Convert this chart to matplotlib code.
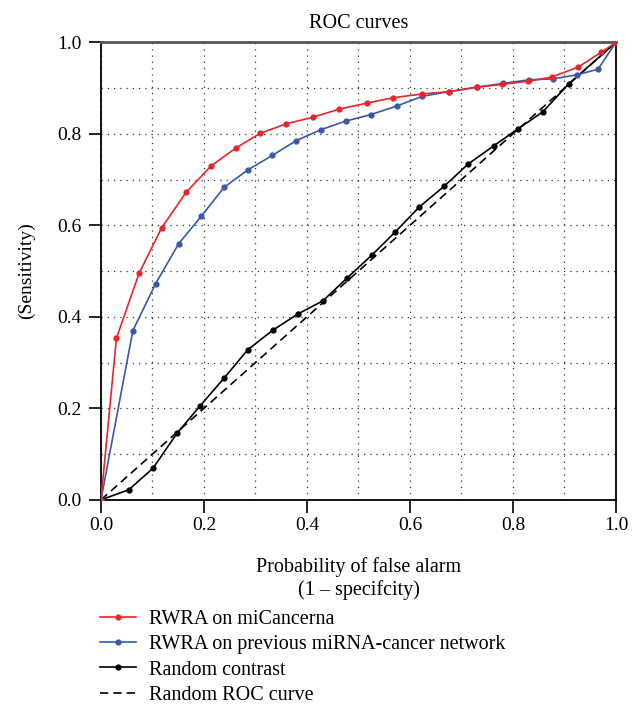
import numpy as np
import matplotlib
matplotlib.use("Agg")
import matplotlib.pyplot as plt

# Werte
red_x = [0.0, 0.030, 0.074, 0.118, 0.166, 0.214, 0.262, 0.309, 0.360, 0.411, 0.463,
         0.516, 0.568, 0.623, 0.675, 0.730, 0.779, 0.830, 0.875, 0.927, 0.971, 1.0]
red_y = [0.0, 0.353, 0.495, 0.595, 0.673, 0.730, 0.769, 0.801, 0.822, 0.836, 0.854,
         0.867, 0.879, 0.887, 0.892, 0.902, 0.908, 0.915, 0.924, 0.946, 0.978, 1.0]

blue_x = [0.0, 0.062, 0.106, 0.151, 0.195, 0.239, 0.285, 0.333, 0.379, 0.427, 0.476,
          0.524, 0.575, 0.624, 0.675, 0.730, 0.780, 0.831, 0.878, 0.924, 0.965, 1.0]
blue_y = [0.0, 0.370, 0.472, 0.560, 0.620, 0.683, 0.721, 0.753, 0.785, 0.809, 0.828,
          0.842, 0.861, 0.882, 0.892, 0.902, 0.910, 0.918, 0.920, 0.929, 0.941, 1.0]

black_x = [0.0, 0.054, 0.101, 0.148, 0.193, 0.239, 0.285, 0.334, 0.382, 0.431, 0.478,
           0.526, 0.571, 0.618, 0.667, 0.713, 0.763, 0.810, 0.858, 0.908, 1.0]
black_y = [0.0, 0.022, 0.069, 0.146, 0.206, 0.266, 0.328, 0.371, 0.406, 0.435, 0.485,
           0.535, 0.585, 0.640, 0.686, 0.734, 0.774, 0.811, 0.848, 0.909, 1.0]

diag = [0.0, 1.0]

labels = ["RWRA on miCancerna",
          "RWRA on previous miRNA-cancer network",
          "Random contrast",
          "Random ROC curve"]
ticks = [0.0, 0.2, 0.4, 0.6, 0.8, 1.0]
tick_labels = ["0.0", "0.2", "0.4", "0.6", "0.8", "1.0"]

plt.rcParams['font.family'] = ['Liberation Serif', 'DejaVu Serif']

fig = plt.figure(figsize=(6.43, 7.05), dpi=100)
ax = fig.add_axes([0.157, 0.291, 0.801, 0.649])

ax.plot(red_x, red_y, color='#e8252b', lw=1.2, marker='o', ms=3.5, label=labels[0], zorder=4)
ax.plot(blue_x, blue_y, color='#3a58a8', lw=1.2, marker='o', ms=3.5, label=labels[1], zorder=3)
ax.plot(black_x, black_y, color='black', lw=1.2, marker='o', ms=3.5, label=labels[2], zorder=2)
ax.plot(diag, diag, color='black', lw=1.2, ls=(0, (5, 3)), label=labels[3], zorder=2)

ax.set_xlim(0, 1)
ax.set_ylim(0, 1)
ax.set_xticks(ticks)
ax.set_xticklabels(tick_labels)
ax.set_yticks(ticks)
ax.set_yticklabels(tick_labels)
ax.set_xticks(np.arange(0.1, 1.0, 0.2), minor=True)
ax.set_yticks(np.arange(0.1, 1.0, 0.2), minor=True)
ax.tick_params(which='major', direction='out', length=9, width=1.2, labelsize=14)
ax.tick_params(axis='x', pad=3)
ax.tick_params(axis='y', pad=5)
ax.tick_params(which='minor', length=0)
ax.grid(True, which='both', color='#333333', lw=0.9, ls=(0, (1, 4)))

for s in ['left', 'bottom', 'right']:
    ax.spines[s].set_color('black')
    ax.spines[s].set_linewidth(1.3)
ax.spines['top'].set_color('#555555')
ax.spines['top'].set_linewidth(2)

ax.set_title("ROC curves", fontsize=14.5, pad=10)
ax.set_ylabel("(Sensitivity)", fontsize=14, labelpad=16)
ax.set_xlabel("Probability of false alarm\n(1 \u2013 specifcity)", fontsize=14.5, labelpad=17,
              linespacing=1.2)

h, l = ax.get_legend_handles_labels()
fig.legend(h, l, loc='upper left', bbox_to_anchor=(0.143, 0.146), frameon=False,
           fontsize=14.5, handlelength=1.8, handletextpad=0.65, labelspacing=0.3,
           borderaxespad=0)

fig.savefig("out.png", dpi=100)
